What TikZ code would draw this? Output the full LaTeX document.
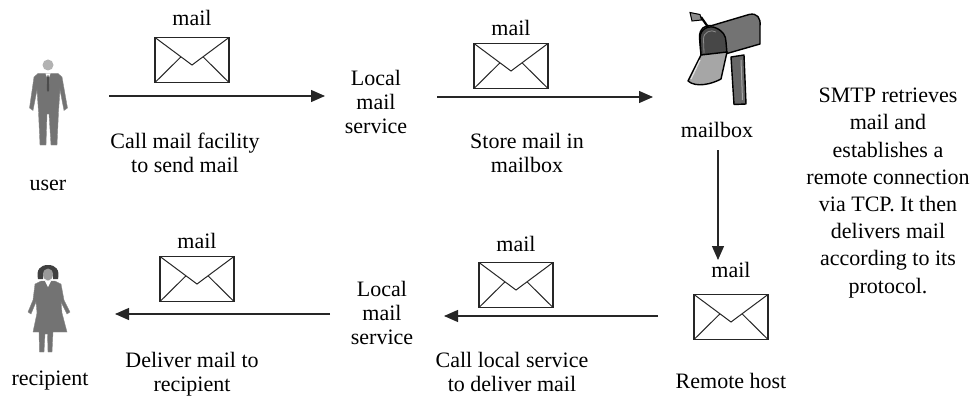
\documentclass[tikz,border=0pt]{standalone}
\usepackage{fontspec}
\setmainfont{Liberation Serif}
\usetikzlibrary{arrows.meta,calc}

\tikzset{
  txt/.style={inner sep=0pt, align=center, font=\fontsize{22}{24}\selectfont},
  note/.style={inner sep=0pt, align=center, font=\fontsize{22}{27.2}\selectfont},
  flow/.style={line width=1.2pt, draw=black!85, -{Triangle[length=14pt,width=12pt]}},
  env/.style={draw=black!85, line width=1.3pt, minimum width=74pt, minimum height=45pt,
    inner sep=0pt, fill=white,
    path picture={
      \draw[line width=1pt, black!85]
        (path picture bounding box.north west) -- ++(37,27.5) -- (path picture bounding box.north east)
        (path picture bounding box.south west) -- ++(26,-25.7)
        (path picture bounding box.south east) -- ++(-26,-25.7);
    }},
  figure/.style={fill=black!55, draw=black!45, line width=0.4pt},
  boxline/.style={draw=black, line width=1.4pt, line join=round},
}

\begin{document}
\begin{tikzpicture}[x=1pt,y=-1pt]
\useasboundingbox (0,0) rectangle (970,396);

% ---------- user (man in a suit) ----------
\fill[black!30] (48,65) circle (5.5);
\path[figure] (38,73.5) -- (58,73.5) -- (62,77) -- (67.5,108) -- (64,110.5) -- (60,90)
  -- (58.5,112) -- (57,145) -- (51,145) -- (49,114) -- (47,114) -- (46,145) -- (40,145)
  -- (38.5,112) -- (37,90) -- (33,110.5) -- (29.5,108) -- (34,77) -- cycle;
\fill[white] (45.5,73.5) -- (50.5,73.5) -- (48,80) -- cycle;
\fill[black!70] (47.3,75.5) -- (48.7,75.5) -- (49.2,90) -- (48,92) -- (46.8,90) -- cycle;
\node[txt] (user) at (48,185) {user};

% ---------- recipient (woman) ----------
\fill[black!75] (38,279) .. controls (36,270) and (40,265) .. (48,265)
  .. controls (56,265) and (60,270) .. (58,279) -- (53,279) -- (53,273) -- (43,273) -- (43,279) -- cycle;
\fill[black!40] (48,274.5) ellipse (5 and 6);
\path[figure] (41,281) -- (55,281) -- (61,284) -- (64,300) -- (70,312) -- (67,314)
  -- (61,302) -- (62,313) -- (67,332) -- (53,332) -- (52,352) -- (48,352) -- (47.5,334)
  -- (45,334) -- (44,352) -- (39.5,352) -- (39,332) -- (33,332) -- (37,313) -- (36,302)
  -- (31,314) -- (28,312) -- (33,300) -- (35,284) -- cycle;
\fill[white] (45,281) -- (51,281) -- (48,287) -- cycle;
\node[txt] (recipient) at (50,381) {recipient};

% ---------- mailbox ----------
% post
\path[boxline, fill=black!60] (731,57) -- (744,55) -- (746,104) -- (734,104.5) -- cycle;
\draw[black!35, line width=1pt] (741,60) -- (742.5,100);
% body
\path[boxline, fill=black!55]
  (701,55) -- (699.5,38) .. controls (699,28) and (706,24.5) .. (712,25.5)
  -- (749,14.5) .. controls (757,12.5) and (761,18) .. (760,26) -- (760,44) -- (727,53.5) -- cycle;
% front opening
\path[boxline, fill=black!72]
  (701,55) -- (700,38) .. controls (700,28) and (710,25) .. (716,28)
  .. controls (723,31) and (726,36) .. (726,42) -- (727,53.5) -- cycle;
\draw[black!45, line width=0.8pt] (704,53) -- (703.5,39) .. controls (703.5,32) and (711,29) .. (716,32);
% open door
\path[boxline, fill=black!35]
  (701,55) -- (727,52) -- (721,79) .. controls (712,84) and (696,88) .. (688,81) -- cycle;
\draw[black!12, line width=1.2pt] (700,60) -- (691,79);
% flag
\draw[black, line width=2.2pt] (701,17) -- (708,27);
\path[draw=black, line width=1pt, fill=black!45] (690,12.5) -- (700,14.5) -- (701.5,20) -- (692,21) -- cycle;
\node[txt] (mailbox) at (717,130) {mailbox};

% ---------- envelopes ----------
\node[env, label={[txt, label distance=10.5pt]above:mail}] (env1) at (192,60) {};
\node[env, label={[txt, label distance=6.5pt]above:mail}] (env2) at (511,66) {};
\node[env, label={[txt, label distance=10pt]above:mail}] (env3) at (516,285) {};
\node[env, label={[txt, label distance=16pt]above:mail}] (env4) at (731,317) {};
\node[env, label={[txt, label distance=7pt]above:mail}] (env5) at (197,279) {};

% ---------- service labels ----------
\node[txt] (lms1) at (376,102) {Local\\mail\\service};
\node[txt] (lms2) at (382,313) {Local\\mail\\service};
\node[txt] (remote) at (731,381) {Remote host};

% ---------- step captions ----------
\node[txt] (cap1) at (185,153) {Call mail facility\\to send mail};
\node[txt] (cap2) at (527,153) {Store mail in\\mailbox};
\node[txt] (cap4) at (512,372) {Call local service\\to deliver mail};
\node[txt] (cap5) at (192,374) {Deliver mail to\\recipient};
\node[note] (smtp) at (888,193) {SMTP retrieves\\mail and\\establishes a\\remote connection\\via TCP. It then\\delivers mail\\according to its\\protocol.};

% ---------- connectors ----------
\coordinate (a1s) at (109,96);  \coordinate (a1e) at (325,96);
\coordinate (a2s) at (437,97);  \coordinate (a2e) at (653,97);
\coordinate (a4s) at (658,316); \coordinate (a4e) at (444,316);
\coordinate (a5s) at (330,314); \coordinate (a5e) at (115,314);
\coordinate (a3s) at (718,150); \coordinate (a3e) at (718,260);
\draw[flow] (a1s) -- (a1e);
\draw[flow] (a2s) -- (a2e);
\draw[flow] (a3s) -- (a3e);
\draw[flow] (a4s) -- (a4e);
\draw[flow] (a5s) -- (a5e);
\end{tikzpicture}
\end{document}
